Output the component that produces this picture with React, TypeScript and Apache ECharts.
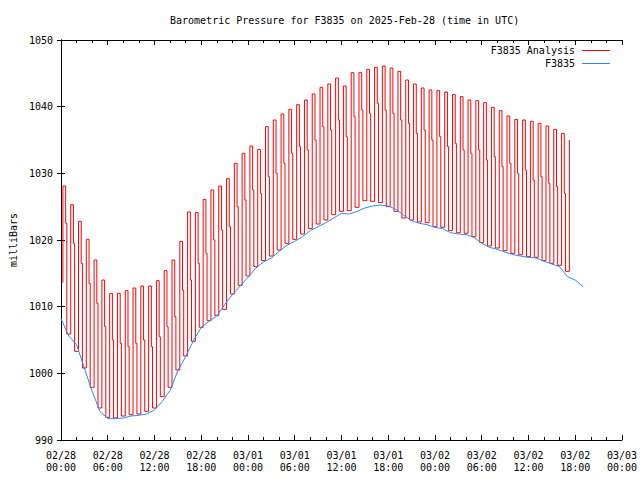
import React, { useEffect, useRef } from "react";
import * as echarts from "echarts";

// x values are hours since 2025-02-28 00:00 UTC
const tickLabels = [
  "02/28\n00:00", "02/28\n06:00", "02/28\n12:00", "02/28\n18:00",
  "03/01\n00:00", "03/01\n06:00", "03/01\n12:00", "03/01\n18:00",
  "03/02\n00:00", "03/02\n06:00", "03/02\n12:00", "03/02\n18:00",
  "03/03\n00:00",
];

// Observed F3835 pressure, hourly from hour 0
const observed = [
  1008.2, 1005.6, 1004.3, 1000.8, 997.3, 994.3, 993.2, 993.2, 993.3, 993.6,
  993.7, 993.9, 994.5, 995.8, 997.4, 1000.4, 1002.5, 1004.9, 1006.9, 1007.8,
  1008.6, 1010.3, 1011.8, 1013.1, 1014.4, 1015.8, 1016.7, 1017.3, 1018.3, 1019.2,
  1019.8, 1020.5, 1021.4, 1022.0, 1022.6, 1023.3, 1024.0, 1023.9, 1024.3, 1024.8,
  1025.1, 1025.25, 1025.1, 1024.6, 1023.7, 1022.9, 1022.5, 1022.3, 1021.9, 1021.7,
  1021.1, 1020.9, 1020.8, 1020.4, 1019.5, 1018.9, 1018.6, 1018.2, 1017.8, 1017.6,
  1017.4, 1017.3, 1016.8, 1016.4, 1016.0, 1014.5, 1014.0, 1013.0,
];

// Analysis: per hour, top, intermediate step and bottom of the analysis spread
const analysisHigh = [
  1028.1, 1025.3, 1022.8, 1020.1, 1017.0, 1014.0, 1012.0, 1012.0, 1012.4, 1012.8,
  1013.1, 1013.1, 1013.9, 1015.4, 1017.0, 1019.8, 1024.2, 1024.1, 1026.1, 1027.5,
  1028.1, 1029.2, 1031.5, 1033.0, 1034.1, 1033.6, 1037.0, 1038.0, 1038.9, 1039.6,
  1040.3, 1041.0, 1041.9, 1042.9, 1043.4, 1044.3, 1043.1, 1045.1, 1045.1, 1045.6,
  1045.9, 1046.1, 1045.8, 1045.3, 1044.0, 1043.4, 1042.8, 1042.5, 1042.4, 1042.2,
  1041.8, 1041.5, 1041.0, 1040.9, 1040.6, 1039.9, 1039.4, 1038.6, 1038.1, 1038.0,
  1037.8, 1037.5, 1037.1, 1036.6, 1036.0, 1035.0,
];
const analysisMid = [
  1022.5, 1019.5, 1016.5, 1013.5, 1010.5, 1007.0, 1005.0, 1004.5, 1004.0, 1004.5,
  1005.0, 1004.0, 1005.5, 1007.0, 1008.5, 1012.5, 1014.0, 1016.5, 1018.0, 1020.0,
  1021.5, 1022.0, 1025.0, 1026.0, 1027.5, 1027.0, 1029.5, 1030.0, 1031.5, 1033.0,
  1034.0, 1033.5, 1035.0, 1037.0, 1036.5, 1038.0, 1035.5, 1038.5, 1039.5, 1039.0,
  1040.5, 1039.5, 1039.0, 1038.0, 1037.5, 1036.0, 1036.5, 1035.0, 1035.5, 1034.0,
  1034.5, 1033.5, 1033.0, 1033.5, 1032.0, 1032.5, 1031.0, 1031.5, 1030.0, 1030.5,
  1029.0, 1029.5, 1028.5, 1028.0, 1027.0, 1025.0,
];
const analysisLow = [
  1013.6, 1005.9, 1003.3, 1000.8, 997.9, 994.8, 993.4, 993.3, 993.6, 993.8,
  993.9, 994.3, 994.8, 996.5, 997.9, 1000.5, 1002.6, 1004.8, 1006.9, 1007.9,
  1008.7, 1009.6, 1011.9, 1013.2, 1014.6, 1016.0, 1016.9, 1017.6, 1018.5, 1019.5,
  1020.1, 1020.9, 1021.7, 1022.4, 1023.0, 1023.8, 1024.3, 1024.4, 1024.9, 1025.9,
  1025.8, 1025.6, 1025.0, 1024.3, 1023.3, 1023.0, 1022.7, 1022.6, 1022.0, 1021.9,
  1021.4, 1021.1, 1021.0, 1020.5, 1019.6, 1019.1, 1018.8, 1018.4, 1018.0, 1017.8,
  1017.5, 1017.4, 1016.9, 1016.5, 1016.2, 1015.3,
];

const FONT = "DejaVu Sans Mono";
const RED = "#ff0000";
const BLUE = "#1e8fff";

function buildAnalysis(): number[][] {
  const pts: number[][] = [];
  const last = analysisHigh.length - 1;
  for (let n = 0; n <= last; n++) {
    pts.push([n + 0.25, analysisLow[n]]);
    pts.push([n + 0.25, analysisHigh[n]]);
    if (n < last) {
      pts.push([n + 0.6, analysisHigh[n]]);
      pts.push([n + 0.6, analysisMid[n]]);
      pts.push([n + 0.75, analysisMid[n]]);
      pts.push([n + 0.75, analysisLow[n + 1]]);
    }
  }
  return pts;
}

export default function App() {
  const ref = useRef<HTMLDivElement>(null);
  useEffect(() => {
    if (!ref.current) return;
    const chart = echarts.init(ref.current, null, { renderer: "svg" });
    const axisCommon = {
      axisLine: { show: true, lineStyle: { color: "#000", width: 1 } },
      splitLine: { show: false },
    };
    chart.setOption({
      animation: false,
      backgroundColor: "#fff",
      textStyle: { fontFamily: FONT, color: "#000" },
      title: {
        text: "Barometric Pressure for F3835 on 2025-Feb-28 (time in UTC)",
        left: 165,
        top: 10,
        textStyle: { fontFamily: FONT, fontSize: 10, fontWeight: "normal", color: "#000" },
      },
      legend: {
        orient: "vertical",
        right: 25,
        top: 39,
        align: "right",
        itemGap: 0,
        itemWidth: 28,
        itemHeight: 1,
        icon: "rect",
        data: [
          { name: "F3835 Analysis", itemStyle: { color: RED } },
          { name: "F3835", itemStyle: { color: BLUE } },
        ],
        textStyle: { fontFamily: FONT, fontSize: 10, color: "#000", lineHeight: 13, padding: [0, 2, 0, 0] },
      },
      grid: { left: 58, right: 18, top: 40, bottom: 40, containLabel: false },
      xAxis: [
        {
          type: "value",
          min: 0,
          max: 72,
          interval: 6,
          position: "bottom",
          ...axisCommon,
          axisTick: { show: true, inside: true, length: 5, lineStyle: { color: "#000" } },
          minorTick: { show: true, splitNumber: 3, length: 3, lineStyle: { color: "#000" } },
          minorSplitLine: { show: false },
          axisLabel: {
            show: true,
            margin: 9,
            fontFamily: FONT,
            fontSize: 10,
            lineHeight: 12,
            color: "#000",
            showMinLabel: true,
            showMaxLabel: true,
            formatter: (v: number) => tickLabels[Math.round(v / 6)] ?? "",
          },
        },
        {
          type: "value",
          min: 0,
          max: 72,
          interval: 6,
          position: "top",
          ...axisCommon,
          axisTick: { show: true, inside: true, length: 5, lineStyle: { color: "#000" } },
          minorTick: { show: true, splitNumber: 3, length: 3, lineStyle: { color: "#000" } },
          minorSplitLine: { show: false },
          axisLabel: { show: false },
        },
      ],
      yAxis: [
        {
          type: "value",
          min: 990,
          max: 1050,
          interval: 10,
          position: "left",
          ...axisCommon,
          axisTick: { show: true, inside: true, length: 4, lineStyle: { color: "#000" } },
          axisLabel: {
            show: true,
            margin: 8,
            fontFamily: FONT,
            fontSize: 10,
            color: "#000",
            formatter: (v: number) => String(v),
          },
          name: "milliBars",
          nameLocation: "middle",
          nameGap: 42,
          nameTextStyle: { fontFamily: FONT, fontSize: 10, color: "#000" },
        },
        {
          type: "value",
          min: 990,
          max: 1050,
          interval: 10,
          position: "right",
          ...axisCommon,
          axisTick: { show: true, inside: true, length: 4, lineStyle: { color: "#000" } },
          axisLabel: { show: false },
        },
      ],
      series: [
        {
          name: "F3835 Analysis",
          type: "line",
          xAxisIndex: 0,
          yAxisIndex: 0,
          symbol: "none",
          showSymbol: false,
          lineStyle: { color: RED, width: 1 },
          itemStyle: { color: RED },
          data: buildAnalysis(),
        },
        {
          name: "F3835",
          type: "line",
          xAxisIndex: 0,
          yAxisIndex: 0,
          symbol: "none",
          showSymbol: false,
          lineStyle: { color: BLUE, width: 1 },
          itemStyle: { color: BLUE },
          data: observed.map((v, i) => [i, v]),
        },
      ],
    });
    return () => chart.dispose();
  }, []);
  return (
    <div
      ref={ref}
      style={{ position: "absolute", left: 0, top: 0, width: 640, height: 480 }}
    />
  );
}
